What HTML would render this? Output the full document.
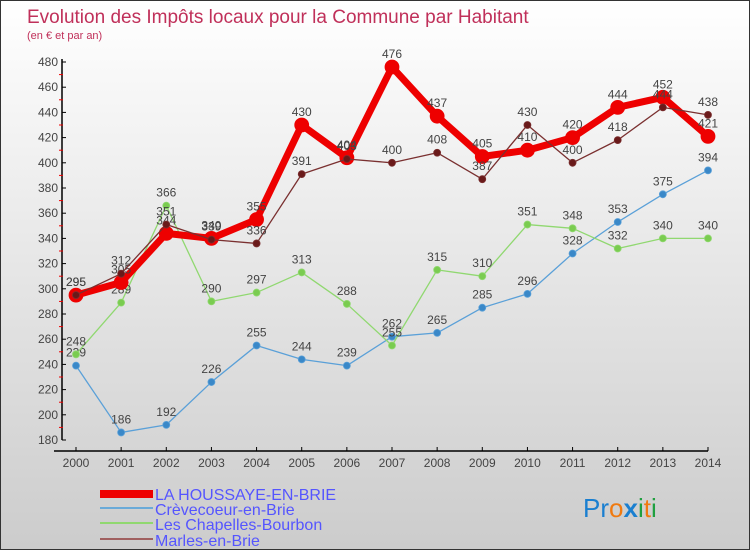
<!DOCTYPE html>
<html><head><meta charset="utf-8"><style>
body{margin:0;}
#c{width:748px;height:548px;border:1px solid #333;background:linear-gradient(#fff,#ccc);position:relative;overflow:hidden;font-family:"Liberation Sans",sans-serif;}
</style></head><body>
<div id="c">
<svg id="s" width="748" height="548" style="position:absolute;left:0;top:0">
<text x="26" y="22" font-size="19" fill="#c0305a">Evolution des Impôts locaux pour la Commune par Habitant</text>
<text x="26" y="38" font-size="11" fill="#c0305a">(en € et par an)</text>
<g id="axes"></g><g id="series"></g>
<g>
<rect x="99" y="489" width="53" height="8" fill="#e00"/>
<text x="154" y="499" font-size="16" fill="#55f">LA HOUSSAYE-EN-BRIE</text>
<line x1="99" y1="507" x2="152" y2="507" stroke="#6aaad8" stroke-width="2"/>
<text x="154" y="514" font-size="16" fill="#55f">Crèvecoeur-en-Brie</text>
<line x1="99" y1="522" x2="152" y2="522" stroke="#90d870" stroke-width="2"/>
<text x="154" y="529" font-size="16" fill="#55f">Les Chapelles-Bourbon</text>
<line x1="99" y1="538" x2="152" y2="538" stroke="#a06060" stroke-width="2"/>
<text x="154" y="545" font-size="16" fill="#55f">Marles-en-Brie</text>
</g>
<text x="582" y="516" font-size="26"><tspan fill="#1a7fd0">P</tspan><tspan fill="#1a7fd0">r</tspan><tspan fill="#f07a10">o</tspan><tspan fill="#1a7fd0" font-weight="bold">x</tspan><tspan fill="#20a040">i</tspan><tspan fill="#f07a10">t</tspan><tspan fill="#20a040">i</tspan></text>
</svg>
</div>
<script>
const years=[2000,2001,2002,2003,2004,2005,2006,2007,2008,2009,2010,2011,2012,2013,2014];
const houssaye=[295,305,344,340,355,430,404,476,437,405,410,420,444,452,421];
const crevecoeur=[239,186,192,226,255,244,239,262,265,285,296,328,353,375,394];
const chapelles=[248,289,366,290,297,313,288,255,315,310,351,348,332,340,340];
const marles=[295,312,351,339,336,391,403,400,408,387,430,400,418,444,438];
const yTicks=[180,200,220,240,260,280,300,320,340,360,380,400,420,440,460,480];
const NS="http://www.w3.org/2000/svg";
function X(i){return 75+i*(707-75)/(years.length-1);}
function Y(v){return 439-(v-180)*(439-61)/300;}
function mk(tag,at,parent){const e=document.createElementNS(NS,tag);for(const k in at)e.setAttribute(k,at[k]);parent.appendChild(e);return e;}
const ax=document.getElementById('axes');
let e=mk('line',{x1:61,y1:58,x2:61,y2:439,stroke:'#000','stroke-width':1.5},ax);


e=mk('line',{x1:53,y1:450,x2:707,y2:450,stroke:'#000','stroke-width':1.5},ax);


yTicks.forEach((t,i)=>{
 mk('line',{x1:61,y1:Y(t),x2:65,y2:Y(t),stroke:'#000'},ax);
 if(i<yTicks.length-1)mk('line',{x1:58,y1:Y(t+10),x2:62,y2:Y(t+10),stroke:'#e00'},ax);
 const tx=mk('text',{x:57,y:Y(t)+4,'font-size':12,'text-anchor':'end',fill:'#444'},ax);
 tx.textContent=t;
 
 
});
years.forEach((yr,i)=>{
 mk('line',{x1:X(i),y1:446,x2:X(i),y2:450,stroke:'#000'},ax);
 const tx=mk('text',{x:X(i),y:466,'font-size':12,'text-anchor':'middle',fill:'#444'},ax);
 tx.textContent=yr;
 
 
});
const sg=document.getElementById('series');
function draw(name,vals,color,w,r,dot){
 const g=mk('g',{},sg);
 
 
 const p=mk('polyline',{points:vals.map((v,i)=>X(i)+','+Y(v)).join(' '),fill:'none',stroke:color,'stroke-width':w,'stroke-linejoin':'round'},g);
 
 
 vals.forEach((v,i)=>{
  const c=mk('circle',{cx:X(i),cy:Y(v),r:r,fill:dot,stroke:color,'stroke-width':0.8},g);
  
  
  const t=mk('text',{x:X(i),y:Y(v)-9,'font-size':12,'text-anchor':'middle',fill:'#444'},g);
  t.textContent=v;
  
  
 });
}
draw('crevecoeur',crevecoeur,'#5aa0d8',1.3,3.5,'#3a88c8');
draw('chapelles',chapelles,'#90d870',1.3,3.5,'#7acc50');
draw('houssaye',houssaye,'#ee0000',7,7,'#ee0000');
draw('marles',marles,'#7a3030',1.3,3.5,'#6a1a1a');
</script>
</body></html>
